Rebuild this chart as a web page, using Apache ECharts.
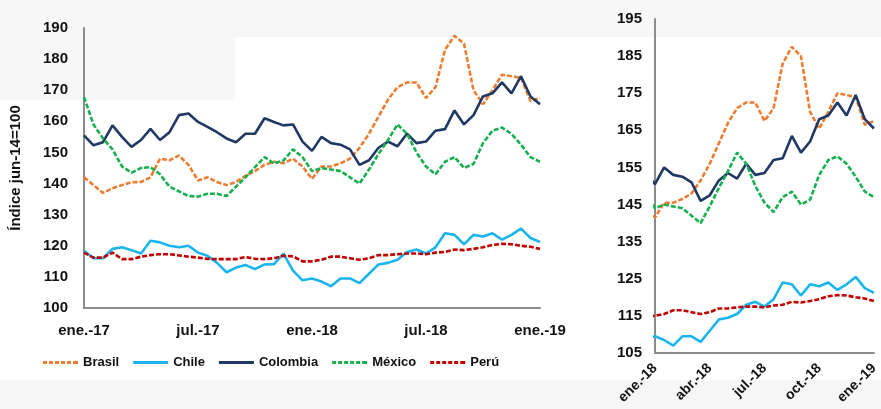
<!DOCTYPE html>
<html>
<head>
<meta charset="utf-8">
<script src="https://cdn.jsdelivr.net/npm/echarts@6/dist/echarts.min.js"></script>
<style>
  html, body { margin: 0; padding: 0; background: #fff; }
  #chart { width: 881px; height: 409px; }
</style>
</head>
<body>
<div id="chart"></div>
<script>
// meses desde ene.-17 (0 = ene.-17, 24 = ene.-19)
const months = [0, 0.5, 1, 1.5, 2, 2.5, 3, 3.5, 4, 4.5, 5, 5.5, 6, 6.5, 7, 7.5, 8, 8.5, 9, 9.5, 10, 10.5, 11, 11.5,
  12, 12.5, 13, 13.5, 14, 14.5, 15, 15.5, 16, 16.5, 17, 17.5, 18, 18.5, 19, 19.5, 20, 20.5, 21, 21.5, 22, 22.5, 23, 23.5, 24]

const brasil = [142, 139.5, 137, 138.5, 139.5, 140.4, 140.5, 142, 148, 147.5, 149, 146, 141, 142, 140.5, 139.5, 140.5, 142.5, 144, 146, 147, 146.5, 148, 145.5,
  141.5, 145.5, 145.5, 146.5, 148, 151.5, 156, 161.5, 167, 171, 172.5, 172.5, 167.5, 171, 183, 187.5, 185, 170, 165.5, 170, 175, 174.5, 174, 166.5, 167.5]
const chile = [118.4, 116, 116, 119, 119.5, 118.6, 117.5, 121.6, 121.1, 120, 119.5, 120, 117.8, 116.8, 114.5, 111.5, 113, 113.8, 112.5, 114, 114.1, 117.5, 112, 108.9,
  109.5, 108.5, 107, 109.5, 109.5, 108, 111, 114, 114.5, 115.5, 118, 118.8, 117.5, 119.5, 124, 123.5, 120.5, 123.5, 123, 124, 122, 123.5, 125.5, 122.5, 121.2]
const colombia = [155.5, 152.3, 153.3, 158.7, 155, 151.8, 154, 157.6, 154, 156.5, 162, 162.5, 159.8, 158.2, 156.5, 154.5, 153.3, 156, 156, 161, 159.8, 158.7, 159, 153.5,
  150.5, 155, 153, 152.5, 151, 146, 147.5, 151.5, 153.5, 152, 156, 153, 153.5, 157, 157.5, 163.5, 159, 162, 168, 169, 172.5, 169, 174.5, 168, 165.5]
const mexico = [167.8, 159, 154.5, 151, 145.5, 143.5, 145, 145.3, 143, 139, 137.5, 136, 135.8, 136.7, 136.7, 136, 139, 142, 145.3, 148.5, 146.5, 147.4, 151, 148.5,
  144, 145, 144.5, 144, 142, 140, 144.5, 149.5, 154, 159, 156, 150, 145.5, 143, 147, 148.5, 145, 146.3, 153, 157, 158, 156, 152.5, 148.5, 147]
const peru = [117.8, 116.2, 116.2, 117.8, 115.7, 115.7, 116.5, 117, 117.3, 117.3, 116.9, 116.5, 116.2, 115.8, 115.7, 115.7, 115.7, 116.4, 115.8, 115.7, 116, 116.8, 116.6, 115,
  115, 115.5, 116.5, 116.5, 116, 115.5, 116, 117, 117, 117.3, 117.5, 117.5, 117.3, 117.8, 118, 118.8, 118.6, 119, 119.5, 120.3, 120.6, 120.5, 120, 119.7, 119]

const leftLabels = ['ene.-17', 'jul.-17', 'ene.-18', 'jul.-18', 'ene.-19']
const rightLabels = ['ene.-18', 'abr.-18', 'jul.-18', 'oct.-18', 'ene.-19']

const font = 'Liberation Sans'
const axisGray = '#8c8c8c'

// iconos de leyenda (línea continua / discontinua)
const iconSolid = 'path://M0,0h35v3h-35z'
const iconDash = 'path://M0,0h4v3h-4z M6,0h4v3h-4z M12,0h4v3h-4z M18,0h4v3h-4z M24,0h4v3h-4z M30,0h5v3h-5z'

const paises = [
  { name: 'Brasil', data: brasil, color: '#ED7D31', dashed: true },
  { name: 'Chile', data: chile, color: '#1CB4EC', dashed: false },
  { name: 'Colombia', data: colombia, color: '#203864', dashed: false },
  { name: 'México', data: mexico, color: '#16B04F', dashed: true },
  { name: 'Perú', data: peru, color: '#C00000', dashed: true }
]

function makeSeries(gridIdx) {
  return paises.map(p => ({
    name: p.name,
    type: 'line',
    xAxisIndex: gridIdx,
    yAxisIndex: gridIdx,
    symbol: 'none',
    data: months.map((m, i) => [m, p.data[i]]),
    lineStyle: { color: p.color, width: 2.6, type: p.dashed ? [5, 2] : 'solid' },
    itemStyle: { color: p.color },
    z: 3
  }))
}

const chart = echarts.init(document.getElementById('chart'))

const option = {
  animation: false,
  backgroundColor: '#fff',
  textStyle: { fontFamily: font },
  graphic: [
    { type: 'rect', shape: { x: 0, y: 0, width: 881, height: 37 }, style: { fill: '#f7f7f7' }, z: -10, silent: true },
    { type: 'rect', shape: { x: 0, y: 0, width: 235, height: 100 }, style: { fill: '#f7f7f7' }, z: -10, silent: true },
    { type: 'rect', shape: { x: 0, y: 380, width: 881, height: 29 }, style: { fill: '#f6f6f6' }, z: -10, silent: true }
  ],
  legend: {
    data: paises.map(p => ({ name: p.name, icon: p.dashed ? iconDash : iconSolid })),
    left: 43,
    top: 356,
    padding: 0,
    itemWidth: 35,
    itemHeight: 3,
    itemGap: 14,
    symbolKeepAspect: false,
    textStyle: { fontFamily: font, fontSize: 13, fontWeight: 'bold', color: '#111' }
  },
  grid: [
    { left: 76, top: 28, width: 464, height: 280 },
    { left: 655, top: 19, width: 232, height: 334 }
  ],
  xAxis: [
    {
      gridIndex: 0,
      type: 'value',
      min: 0,
      max: 24,
      interval: 6,
      axisLine: { show: true, lineStyle: { color: axisGray, width: 2 } },
      axisTick: { show: false },
      splitLine: { show: false },
      axisLabel: {
        margin: 15,
        fontSize: 15,
        fontWeight: 'bold',
        color: '#111',
        alignMinLabel: 'center',
        alignMaxLabel: 'center',
        formatter: v => leftLabels[Math.round(v / 6)] || ''
      }
    },
    {
      gridIndex: 1,
      type: 'value',
      min: 12,
      max: 24,
      interval: 3,
      axisLine: { show: true, lineStyle: { color: axisGray, width: 2 } },
      axisTick: { show: false },
      splitLine: { show: false },
      axisLabel: {
        margin: 13,
        rotate: 45,
        fontSize: 14,
        fontWeight: 'bold',
        color: '#111',
        formatter: v => rightLabels[Math.round((v - 12) / 3)] || ''
      }
    }
  ],
  yAxis: [
    {
      gridIndex: 0,
      type: 'value',
      min: 100,
      max: 190,
      interval: 10,
      name: 'Índice jun-14=100',
      nameLocation: 'middle',
      nameGap: 61,
      nameTextStyle: { fontSize: 15, fontWeight: 'bold', color: '#111' },
      axisLine: { show: true, lineStyle: { color: axisGray, width: 2 } },
      axisTick: { show: false },
      splitLine: { show: false },
      axisLabel: { margin: 16, fontSize: 15, fontWeight: 'bold', color: '#111' }
    },
    {
      gridIndex: 1,
      type: 'value',
      min: 105,
      max: 195,
      interval: 10,
      axisLine: { show: true, lineStyle: { color: axisGray, width: 2 } },
      axisTick: { show: false },
      splitLine: { show: false },
      axisLabel: { margin: 13, fontSize: 15, fontWeight: 'bold', color: '#111' }
    }
  ],
  series: [...makeSeries(0), ...makeSeries(1)]
}

chart.setOption(option)
</script>
</body>
</html>
